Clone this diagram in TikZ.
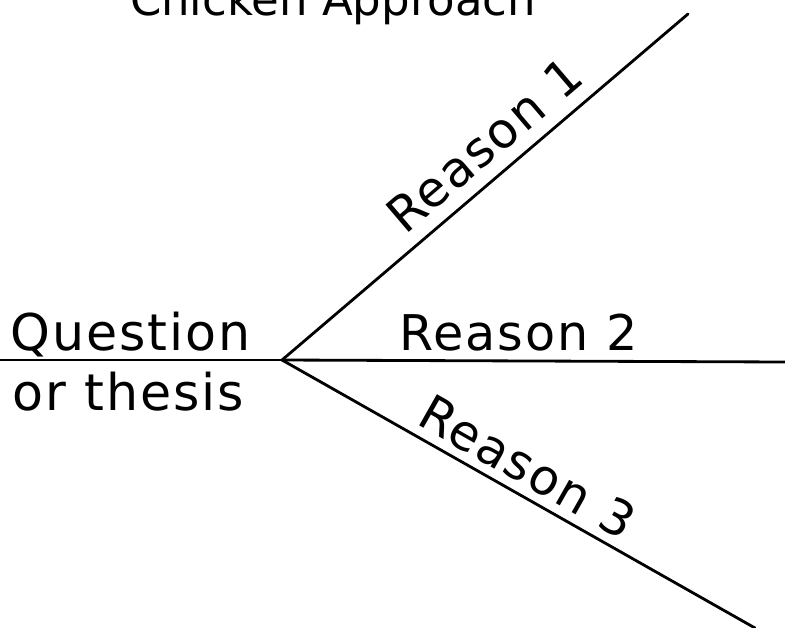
\documentclass[tikz,border=0pt]{standalone}
\usepackage{fontspec}
\setmainfont{DejaVu Sans}
\usetikzlibrary{positioning}
\tikzset{
  bone/.style  ={line width=2pt,draw=black,line cap=round},
  reason/.style={font=\fontsize{35}{40}\selectfont\addfontfeature{LetterSpace=4},inner sep=2pt},
  qlabel/.style={font=\fontsize{36}{42}\selectfont\addfontfeature{LetterSpace=4},inner sep=0pt,anchor=base west},
  title/.style ={font=\fontsize{32}{38}\selectfont,inner sep=0pt,anchor=base}
}

\begin{document}
\begin{tikzpicture}[x=0.025cm,y=-0.025cm]
    \clip (0,0) rectangle (785,627);
    \useasboundingbox (0,0) rectangle (785,627);
    % spine and the three reasons
    \coordinate (hub) at (282,360);
    \coordinate (left) at (0,360);
    \coordinate (r1) at (688,14);
    \coordinate (r2) at (785,362);
    \coordinate (r3) at (755,628);
    \node[title] (head) at (333,15) {Chicken Approach};
    \draw[bone] (left)--(hub);
    \draw[bone] (hub)--(r1) node[reason,pos=0.55,sloped,above=7pt] (l1) {Reason 1};
    \draw[bone] (hub)--(r2) node[reason,pos=0.47,above=4pt] (l2) {Reason 2};
    \draw[bone] (hub)--(r3) node[reason,pos=0.49,sloped,above=4pt] (l3) {Reason 3};
    \node[qlabel] (q) at (10,350) {Question};
    \node[qlabel] (t) at (12,410) {or thesis};
\end{tikzpicture}
\end{document}
